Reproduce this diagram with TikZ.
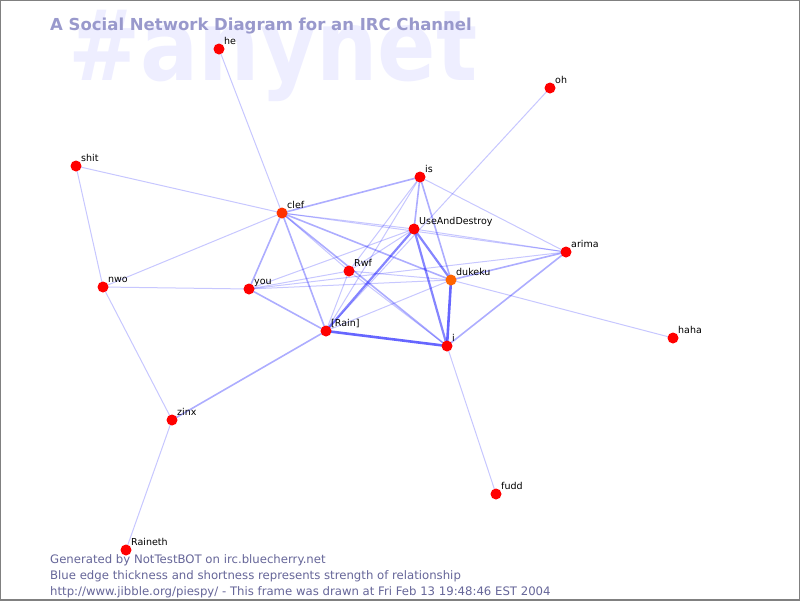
\documentclass[tikz,border=0pt]{standalone}
\usepackage{fontspec}
\setmainfont{DejaVu Sans}
\definecolor{wmark}{RGB}{238,238,255}
\definecolor{titlecol}{RGB}{153,153,204}
\definecolor{footcol}{RGB}{102,102,153}
\definecolor{edgecol}{RGB}{0,0,255}
\definecolor{nick}{RGB}{255,0,0}
\definecolor{nickwarm}{RGB}{255,50,0}
\definecolor{nickhot}{RGB}{255,100,0}
\pgfdeclarelayer{bg}
\pgfdeclarelayer{edges}
\pgfsetlayers{bg,edges,main}

\begin{document}
\begin{tikzpicture}[x=1pt,y=-1pt,
    pers/.style={circle,minimum size=11pt,inner sep=0pt},
    lab/.style={anchor=base west,inner sep=0pt,font=\fontsize{9.5}{10}\selectfont},
    foot/.style={anchor=base west,inner sep=0pt,text=footcol,font=\fontsize{11.7}{12}\selectfont},
    weak/.style={draw=edgecol,draw opacity=0.22,line width=1pt},
    mid/.style={draw=edgecol,draw opacity=0.32,line width=1.6pt},
    strong/.style={draw=edgecol,draw opacity=0.48,line width=2.2pt},
    vstrong/.style={draw=edgecol,draw opacity=0.6,line width=2.6pt}]
    \useasboundingbox (0,0) rectangle (800,600);
    \begin{pgfonlayer}{bg}
        \fill[white] (0,0) rectangle (800,600);
        \node[anchor=base west,inner sep=0pt,text=wmark,font=\bfseries\fontsize{98}{98}\selectfont] (anynet) at (68,80) {\scalebox{0.88}[1]{\#anynet}};
    \end{pgfonlayer}
    \node[anchor=base west,inner sep=0pt,text=titlecol,font=\bfseries\fontsize{16.5}{16.5}\selectfont] (title) at (50,30) {A Social Network Diagram for an IRC Channel};
    \foreach \n/\x/\y/\t/\c in {he/219/49/he/nick, oh/550/88/oh/nick, shit/76/166/shit/nick, is/420/177/is/nick,
        clef/282/213/clef/nickwarm, uad/414/229/UseAndDestroy/nick, arima/566/252/arima/nick, rwf/349/271/Rwf/nick,
        dukeku/451/280/dukeku/nickhot, you/249/289/you/nick, nwo/103/287/nwo/nick, rain/326/331/{[Rain]}/nick,
        i/447/346/i/nick, haha/673/338/haha/nick, zinx/172/420/zinx/nick, fudd/496/494/fudd/nick, raineth/126/550/Raineth/nick}
    {
        \node[pers,fill=\c] (\n) at (\x,\y) {};
        \node[lab] (\n-lab) at (\x+5,\y-5) {\t};
    }
    \begin{pgfonlayer}{edges}
        \foreach \a/\b in {he/clef, oh/rain, shit/clef, shit/nwo, nwo/clef, nwo/you, nwo/zinx, zinx/raineth,
            clef/uad, clef/arima, clef/rwf, rwf/i, is/arima, is/rwf, is/rain, uad/you, uad/rwf, uad/arima,
            dukeku/haha, dukeku/rwf, dukeku/you, dukeku/rain, i/fudd, you/rwf, you/arima, rwf/rain}
            \draw[weak] (\a.center) -- (\b.center);
        \foreach \a/\b in {zinx/rain, clef/is, clef/you, clef/rain, clef/dukeku, clef/i, is/uad, is/dukeku,
            dukeku/arima, i/arima, you/rain}
            \draw[mid] (\a.center) -- (\b.center);
        \foreach \a/\b in {uad/dukeku, uad/i, uad/rain}
            \draw[strong] (\a.center) -- (\b.center);
        \foreach \a/\b in {dukeku/i, i/rain}
            \draw[vstrong] (\a.center) -- (\b.center);
    \end{pgfonlayer}
    \node[foot] (gen) at (50,563) {Generated by NotTestBOT on irc.bluecherry.net};
    \node[foot] (blue) at (50,579) {Blue edge thickness and shortness represents strength of relationship};
    \node[foot] (url) at (50,595) {http://www.jibble.org/piespy/ - This frame was drawn at Fri Feb 13 19:48:46 EST 2004};
    \draw[gray,line width=1.5pt] (0,0) rectangle (800,600);
\end{tikzpicture}
\end{document}
